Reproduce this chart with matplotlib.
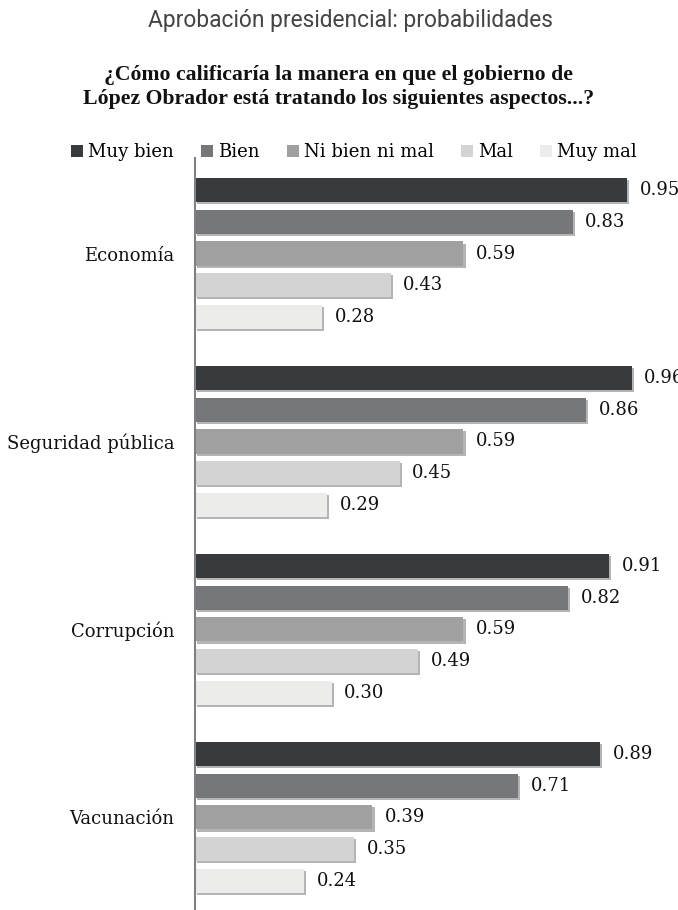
import matplotlib
matplotlib.use("Agg")
import matplotlib.pyplot as plt
import matplotlib.patheffects as pe
from matplotlib.patches import Patch
import numpy as np

categories = ["Economía", "Seguridad pública", "Corrupción", "Vacunación"]
series = ["Muy bien", "Bien", "Ni bien ni mal", "Mal", "Muy mal"]
muy_bien = [0.95, 0.96, 0.91, 0.89]
bien = [0.83, 0.86, 0.82, 0.71]
ni_bien_ni_mal = [0.59, 0.59, 0.59, 0.39]
mal = [0.43, 0.45, 0.49, 0.35]
muy_mal = [0.28, 0.29, 0.30, 0.24]
values = [muy_bien, bien, ni_bien_ni_mal, mal, muy_mal]
colors = ["#383b3e", "#75777a", "#a0a0a0", "#d2d3d2", "#ecedeb"]

serif = ["DejaVu Serif"]

fig = plt.figure(figsize=(6.78, 9.10), dpi=100)
W, H = 678, 910
ax_left, ax_right = 195 / W, 650 / W
ax_top_px = 158
ax = fig.add_axes([ax_left, 0, ax_right - ax_left, (H - ax_top_px) / H])

group_gap = 5.92
unit = 1.0
bar_h = 0.76
shadow = [pe.SimplePatchShadow(offset=(1.5, -1.5), shadow_rgbFace="#777777", alpha=0.55), pe.Normal()]

for j, (name, vals, c) in enumerate(zip(series, values, colors)):
    ys = [i * group_gap + j * unit for i in range(len(categories))]
    bars = ax.barh(ys, vals, height=bar_h, color=c, label=name, zorder=2)
    for b in bars:
        b.set_path_effects(shadow)
    for y, v in zip(ys, vals):
        ax.annotate(f"{v:.2f}", xy=(v, y), xytext=(9, 0), textcoords="offset points",
                    va="center", ha="left", fontsize=13, family=serif, color="#111111",
                    annotation_clip=False)

ax.set_xlim(0, 1.0)
ax.set_ylim((H - 190) / 31.75, (ax_top_px - 190) / 31.75)
centers = [i * group_gap + 2 * unit for i in range(len(categories))]
ax.set_yticks(centers)
ax.set_yticklabels(categories, family=serif, fontsize=13, color="#111111")
ax.tick_params(axis="y", length=0, pad=15)
ax.set_xticks([])
for s in ["top", "right", "bottom"]:
    ax.spines[s].set_visible(False)
ax.spines["left"].set_color("#808080")
ax.spines["left"].set_linewidth(1.5)

handles = [Patch(facecolor=c, edgecolor="none") for c in colors]
fig.legend(handles, series, loc="center", bbox_to_anchor=(354 / W, 1 - 152 / H), ncol=5,
           frameon=False, prop={"family": serif, "size": 13},
           handlelength=0.67, handleheight=0.67, handletextpad=0.28, columnspacing=1.5,
           borderpad=0)

fig.text(350 / W, 1 - 21 / H, "Aprobación presidencial: probabilidades", ha="center", va="center",
         fontsize=16.4, family=["Roboto", "DejaVu Sans"], color="#444444")
fig.text(339 / W, 1 - 87 / H, "¿Cómo calificaría la manera en que el gobierno de\nLópez Obrador está tratando los siguientes aspectos...?",
         ha="center", va="center", fontsize=15.7, family=["Liberation Serif", "DejaVu Serif"],
         fontweight="bold", color="#111111", linespacing=1.25)

fig.savefig("out.png", dpi=100)
